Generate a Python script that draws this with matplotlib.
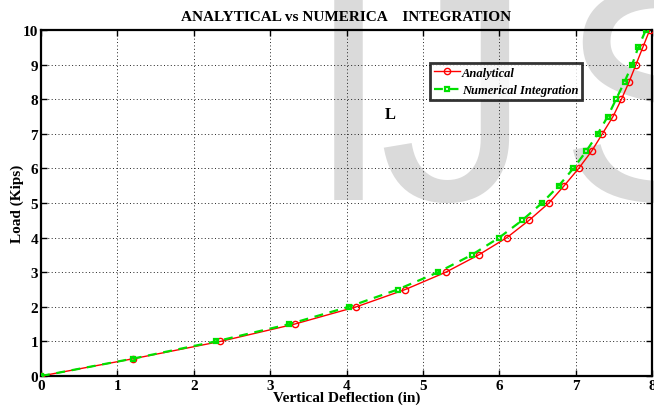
import matplotlib
matplotlib.use("Agg")
import matplotlib.pyplot as plt

load = [0, 0.5, 1.0, 1.5, 2.0, 2.5, 3.0, 3.5, 4.0, 4.5, 5.0,
        5.5, 6.0, 6.5, 7.0, 7.5, 8.0, 8.5, 9.0, 9.5, 10.0]
defl_analytical = [0, 1.21, 2.35, 3.32, 4.13, 4.77, 5.30, 5.73, 6.10, 6.39, 6.65,
                   6.85, 7.04, 7.21, 7.35, 7.49, 7.60, 7.70, 7.79, 7.88, 7.97]
defl_numerical = [0, 1.20, 2.29, 3.25, 4.03, 4.67, 5.20, 5.64, 6.00, 6.30, 6.56,
                  6.78, 6.97, 7.14, 7.29, 7.42, 7.53, 7.64, 7.74, 7.82, 7.92]
xticks = [0, 1, 2, 3, 4, 5, 6, 7, 8]
yticks = [0, 1, 2, 3, 4, 5, 6, 7, 8, 9, 10]

serif = ["Liberation Serif", "DejaVu Serif"]
W, H = 654, 410
fig = plt.figure(figsize=(W / 100, H / 100), dpi=100)
fig.patch.set_facecolor("white")

# watermark
wm = dict(fontsize=220, color="#dadada", family="Liberation Sans",
          va="baseline", ha="center", zorder=-5)
fig.text(348 / W, 1 - 200 / H, "I", **wm)
fig.text(455 / W, 1 - 200 / H, "J", **wm)
fig.text(660 / W, 1 - 200 / H, "S", **wm)

ax = fig.add_axes([41 / W, 1 - 377 / H, (652 - 41) / W, (377 - 31) / H])
ax.patch.set_alpha(0)

ax.plot(defl_analytical, load, color="red", lw=1.0, marker="o", ms=4.5,
        mfc="none", mec="red", mew=1.0, label="Analytical", zorder=3)
ax.plot(defl_numerical, load, color="#00e000", lw=1.6, ls=(0, (4, 3)), marker="s",
        ms=3.5, mfc="none", mec="#00e000", mew=1.6, label="Numerical Integration",
        zorder=4)

ax.set_xlim(0, 8)
ax.set_ylim(0, 10)
ax.set_xticks(xticks)
ax.set_yticks(yticks)
ax.grid(True, color="#222222", ls=(0, (1, 2.5)), lw=0.7)
for s in ax.spines.values():
    s.set_linewidth(1.6)
ax.tick_params(direction="in", length=4, width=1, top=True, right=True, pad=2)
for lab in ax.get_xticklabels() + ax.get_yticklabels():
    lab.set_fontfamily(serif)
    lab.set_fontweight("bold")
    lab.set_fontsize(11)

ax.set_title("ANALYTICAL vs NUMERICA    INTEGRATION", fontfamily=serif,
             fontweight="bold", fontsize=11, pad=7)
ax.set_xlabel("Vertical Deflection (in)", fontfamily=serif, fontweight="bold",
              fontsize=11, labelpad=-1)
ax.set_ylabel("Load (Kips)", fontfamily=serif, fontweight="bold", fontsize=11,
              labelpad=-1)
ax.text(4.57, 7.57, "L", fontfamily=serif, fontweight="bold", fontsize=12,
        ha="center", va="center")

leg = ax.legend(loc="upper left", bbox_to_anchor=(0.637, 0.905),
                prop=dict(family=serif, weight="bold", style="italic", size=9),
                frameon=True, fancybox=False, borderpad=0.3, labelspacing=0.45,
                handlelength=2.1, handletextpad=0.15, borderaxespad=0)
leg.get_frame().set_edgecolor("black")
leg.get_frame().set_linewidth(2.0)

fig.savefig("out.png", dpi=100)
